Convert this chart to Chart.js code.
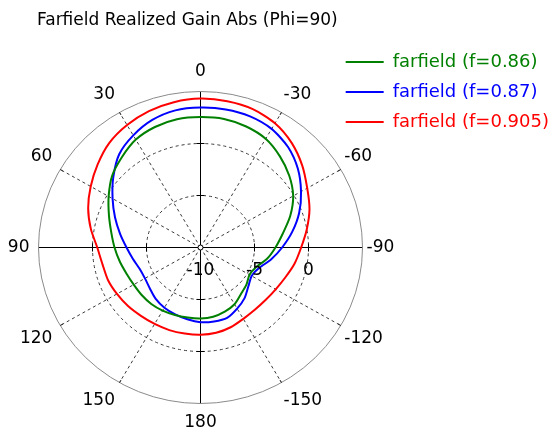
<!DOCTYPE html>
<html>
<head>
<meta charset="utf-8">
<script src="https://cdn.jsdelivr.net/npm/chart.js@4/dist/chart.umd.min.js"></script>
<style>
  html, body { margin: 0; padding: 0; background: #ffffff; }
  canvas { display: block; }
</style>
</head>
<body>
<canvas id="c" width="550" height="432"></canvas>
<script>
// ---- data (theta in degrees, gain in dB) ----
const thetaDeg = [0,-10,-20,-30,-40,-50,-60,-70,-80,-90,-100,-110,-120,-130,-140,-150,-160,-170,
                  180,170,160,150,140,130,120,110,100,90,80,70,60,50,40,30,20,10];
const angleTickLabels = [0,-30,-60,-90,-120,-150,180,150,120,90,60,30];
const radialTickLabels = [-10,-5,0];
const ringValues = [-5,0,5];
const seriesNames = ['farfield (f=0.86)','farfield (f=0.87)','farfield (f=0.905)'];
const seriesColors = ['#008000','#0000ff','#ff0000'];

const gain086 = [2.54,2.55,2.38,2.07,1.44,0.73,-0.09,-1.16,-2.26,-3.06,-3.74,-4.51,-4.76,-4.45,-4.17,-3.70,-3.43,-3.24,
                 -3.17,-3.16,-3.09,-2.99,-2.91,-2.89,-2.86,-2.70,-2.40,-2.04,-1.61,-0.98,-0.18,0.69,1.33,1.98,2.33,2.52];
const gain087 = [3.45,3.48,3.42,3.17,2.61,1.77,0.75,-0.28,-1.38,-2.44,-3.37,-4.23,-4.53,-4.21,-3.65,-3.22,-2.80,-2.78,
                 -2.82,-2.99,-3.16,-3.32,-3.55,-3.88,-4.06,-4.00,-3.65,-3.15,-2.44,-1.58,-0.60,0.54,1.71,2.45,3.05,3.39];
const gain0905 = [4.32,4.28,4.16,3.79,3.13,2.29,1.41,0.74,-0.01,-0.68,-1.15,-1.63,-1.96,-2.14,-2.18,-2.08,-1.84,-1.67,
                  -1.61,-1.60,-1.55,-1.51,-1.42,-1.24,-1.07,-0.88,-0.78,-0.44,0.31,1.07,1.74,2.43,3.13,3.60,3.96,4.19];

const R_MIN = -10, R_MAX = 5, R_STEP = 5;

// ---- layout constants (the reference plot is slightly wider than tall) ----
const CX = 200.5, CY = 247.5, RADIUS = 156, X_STRETCH = 162 / 156;
const FONT = '"DejaVu Sans", Verdana, sans-serif';

// rings of the polar frame, drawn as smooth ellipses from the r scale
const polarRings = {
  id: 'polarRings',
  beforeDatasetsDraw(chart) {
    const s = chart.scales.r;
    const ctx = chart.ctx;
    ctx.save();
    ctx.lineWidth = 1;
    ringValues.forEach(v => {
      const d = s.getDistanceFromCenterForValue(v);
      ctx.beginPath();
      ctx.setLineDash(v === R_MAX ? [] : [3, 3]);
      ctx.strokeStyle = v === R_MAX ? '#8a8a8a' : '#3a3a3a';
      ctx.ellipse(s.xCenter, s.yCenter, d * X_STRETCH, d, 0, 0, Math.PI * 2);
      ctx.stroke();
    });
    // small marks where the 30-degree spokes meet the outer ring
    ctx.setLineDash([]);
    ctx.strokeStyle = '#222';
    thetaDeg.forEach((th, i) => {
      if (th % 30 !== 0 || th % 90 === 0) return;
      const p1 = s.getPointPosition(i, s.drawingArea - 3);
      const p2 = s.getPointPosition(i, s.drawingArea);
      ctx.beginPath();
      ctx.moveTo(p1.x, p1.y);
      ctx.lineTo(p2.x, p2.y);
      ctx.stroke();
    });
    ctx.restore();
  }
};

const polarDecor = {
  id: 'polarDecor',
  afterDatasetsDraw(chart) {
    const s = chart.scales.r;
    const ctx = chart.ctx;
    ctx.save();
    // small ticks on the four main axes where rings cross
    ctx.strokeStyle = '#000';
    ctx.lineWidth = 1;
    thetaDeg.forEach((th, i) => {
      if (th % 90 !== 0) return;
      const ang = s.getIndexAngle(i) - Math.PI / 2;
      const px = -Math.sin(ang), py = Math.cos(ang);
      [-5, 0].forEach(v => {
        const p = s.getPointPosition(i, s.getDistanceFromCenterForValue(v));
        ctx.beginPath();
        ctx.moveTo(p.x - px * 4, p.y - py * 4);
        ctx.lineTo(p.x + px * 4, p.y + py * 4);
        ctx.stroke();
      });
    });
    // centre marker
    ctx.beginPath();
    ctx.arc(s.xCenter, s.yCenter, 2.5, 0, Math.PI * 2);
    ctx.fillStyle = '#fff';
    ctx.fill();
    ctx.stroke();
    // angle labels
    ctx.font = '17px ' + FONT;
    ctx.fillStyle = '#000';
    ctx.textBaseline = 'middle';
    thetaDeg.forEach((th, i) => {
      if (!angleTickLabels.includes(th)) return;
      const a = s.getIndexAngle(i);
      const sn = Math.sin(a), cs = Math.cos(a);
      const p = s.getPointPosition(i, s.drawingArea);
      const padX = sn > 1e-6 ? 4 : 9, padY = 13;
      ctx.textAlign = Math.abs(sn) < 1e-6 ? 'center' : (sn > 0 ? 'left' : 'right');
      const dy = Math.abs(cs) < 1e-6 ? 0 : (cs > 0 ? -6.5 : 6.5);
      ctx.fillText(String(th), p.x + sn * padX, p.y - cs * padY + dy);
    });
    // radial value labels along the -90 axis
    const idx = thetaDeg.indexOf(-90);
    ctx.textAlign = 'center';
    radialTickLabels.forEach(v => {
      const p = s.getPointPosition(idx, s.getDistanceFromCenterForValue(v));
      ctx.fillText(String(v), p.x, p.y + 23);
    });
    ctx.restore();
  }
};

const gains = [gain086, gain087, gain0905];

new Chart(document.getElementById('c'), {
  type: 'radar',
  data: {
    labels: thetaDeg.map(String),
    datasets: gains.map((g, k) => ({
      label: seriesNames[k],
      data: g,
      borderColor: seriesColors[k],
      backgroundColor: seriesColors[k],
      borderWidth: 2,
      pointRadius: 0,
      fill: false,
      tension: 0.25,
      clip: false
    }))
  },
  options: {
    responsive: false,
    animation: false,
    events: [],
    devicePixelRatio: 1,
    layout: { padding: { left: 37, right: -9, top: 0, bottom: 0 } },
    plugins: {
      tooltip: { enabled: false },
      title: {
        display: true,
        text: 'Farfield Realized Gain Abs (Phi=90)',
        align: 'start',
        color: '#000',
        font: { family: FONT, size: 17, weight: 'normal', lineHeight: 1.2 },
        padding: { top: 10, bottom: 10 }
      },
      legend: {
        display: true,
        position: 'right',
        align: 'start',
        title: { display: true, text: '', font: { size: 10, lineHeight: 1.2 }, padding: { top: 29, bottom: 0 } },
        labels: {
          usePointStyle: true,
          pointStyle: 'line',
          pointStyleWidth: 38,
          padding: 12,
          font: { family: FONT, size: 18 },
          generateLabels(chart) {
            return chart.data.datasets.map((ds, i) => ({
              text: ds.label,
              fillStyle: seriesColors[i],
              strokeStyle: seriesColors[i],
              fontColor: seriesColors[i],
              lineWidth: 2,
              pointStyle: 'line',
              hidden: false,
              datasetIndex: i
            }));
          }
        }
      }
    },
    scales: {
      r: {
        min: R_MIN,
        max: R_MAX,
        startAngle: 0,
        ticks: { display: false, stepSize: R_STEP },
        pointLabels: { display: false },
        grid: { display: false },
        angleLines: {
          display: true,
          color: c => (thetaDeg[c.index] % 30 !== 0) ? 'rgba(0,0,0,0)' : (thetaDeg[c.index] % 90 === 0 ? '#000' : '#3a3a3a'),
          lineWidth: c => (thetaDeg[c.index] % 30 !== 0) ? 0 : 1,
          borderDash: c => (thetaDeg[c.index] % 90 === 0) ? [] : [3, 3]
        },
        afterFit(scale) {
          scale.xCenter = CX;
          scale.yCenter = CY;
          scale.drawingArea = RADIUS;
          // stretch the polar frame horizontally like the reference plot
          const base = Object.getPrototypeOf(scale).getPointPosition;
          scale.getPointPosition = function (index, distance, additionalAngle = 0) {
            const p = base.call(this, index, distance, additionalAngle);
            return { x: this.xCenter + (p.x - this.xCenter) * X_STRETCH, y: p.y, angle: p.angle };
          };
        }
      }
    }
  },
  plugins: [polarRings, polarDecor]
});
</script>
</body>
</html>
